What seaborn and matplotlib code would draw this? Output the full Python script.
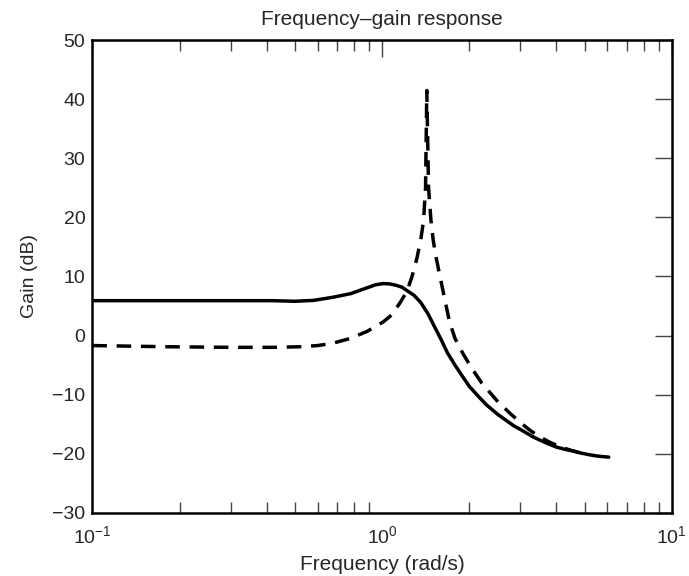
import numpy as np
import pandas as pd
import seaborn as sns
import matplotlib
matplotlib.use('Agg')
import matplotlib.pyplot as plt
from matplotlib.ticker import LogLocator, NullFormatter

# values (frequency in rad/s, gain in dB)
freq_solid = [0.1, 0.2, 0.3, 0.42, 0.5, 0.58, 0.68, 0.78, 0.89, 0.95, 1.01,
              1.06, 1.12, 1.17, 1.22, 1.29, 1.36, 1.44, 1.51, 1.6, 1.68, 1.79,
              1.9, 2.0, 2.14, 2.3, 2.5, 2.65, 2.85, 3.05, 3.3, 3.5, 3.73, 4.0,
              4.3, 4.6, 4.85, 5.2, 5.5, 5.75, 6.06]
gain_solid = [5.9, 5.9, 5.9, 5.9, 5.8, 5.95, 6.5, 7.1, 8.1, 8.6, 8.8,
              8.75, 8.5, 8.2, 7.6, 6.8, 5.6, 3.7, 1.7, -0.7, -2.9, -5.1,
              -7.0, -8.6, -10.2, -11.8, -13.3, -14.2, -15.3, -16.1, -17.1, -17.7, -18.3, -18.9,
              -19.3, -19.6, -19.9, -20.2, -20.4, -20.5, -20.6]

freq_dash = [0.1, 0.181, 0.299, 0.42, 0.522, 0.6, 0.677, 0.776, 0.888, 1.009,
             1.08, 1.152, 1.219, 1.269, 1.321, 1.363, 1.391, 1.413, 1.427, 1.447,
             1.475, 1.503, 1.54, 1.585, 1.64, 1.71, 1.786, 1.909, 2.05, 2.205,
             2.489, 2.74, 2.995, 3.25, 3.511, 3.8, 4.117, 4.45, 4.85]
gain_dash = [-1.7, -1.9, -2.0, -2.0, -1.9, -1.7, -1.3, -0.5, 0.7, 2.3,
             3.5, 5.5, 7.5, 10.0, 13.2, 16.5, 19.5, 25.0, 41.5, 25.0,
             19.5, 16.0, 13.0, 10.0, 6.5, 2.3, -0.5, -3.2, -5.7, -8.0,
             -11.0, -13.0, -14.7, -16.1, -17.2, -18.1, -18.8, -19.4, -19.9]

x_ticks = [0.1, 1, 10]
y_ticks = [-30, -20, -10, 0, 10, 20, 30, 40, 50]

solid = pd.DataFrame({'freq': freq_solid, 'gain': gain_solid})
dashed = pd.DataFrame({'freq': freq_dash, 'gain': gain_dash})

sns.set_style('white')
plt.rcParams['font.family'] = ['Liberation Sans', 'DejaVu Sans']
plt.rcParams['mathtext.fontset'] = 'custom'
plt.rcParams['mathtext.rm'] = 'Liberation Sans'
plt.rcParams['mathtext.it'] = 'Liberation Sans:italic'
plt.rcParams['mathtext.bf'] = 'Liberation Sans:bold'

fig = plt.figure(figsize=(6.89, 5.76), dpi=100)
ax = fig.add_axes([0.134, 0.110, 0.841, 0.820])

sns.lineplot(data=solid, x='freq', y='gain', ax=ax, color='black',
             linewidth=2.5, errorbar=None)
sns.lineplot(data=dashed, x='freq', y='gain', ax=ax, color='black',
             linewidth=2.5, errorbar=None, linestyle=(0, (4.2, 2.8)))

ax.set_xscale('log')
ax.set_xlim(0.1, 10)
ax.set_ylim(-30, 50)
ax.set_xticks(x_ticks)
ax.set_yticks(y_ticks)
ax.xaxis.set_minor_locator(LogLocator(base=10, subs=np.arange(2, 10)))
ax.xaxis.set_minor_formatter(NullFormatter())
ax.set_yticklabels([str(v).replace('-', '\u2212') for v in y_ticks])

ax.tick_params(axis='both', which='major', direction='in', length=12,
               width=1, color='#444444', labelsize=14, top=True, right=True)
ax.tick_params(axis='x', which='minor', direction='in', length=8,
               width=1, color='#444444', top=True, bottom=True)
ax.tick_params(axis='x', which='major', pad=9)
ax.tick_params(axis='y', which='major', pad=5)

for s in ax.spines.values():
    s.set_linewidth(1.8)
    s.set_color('black')

ax.set_xlabel('Frequency (rad/s)', fontsize=15, labelpad=6)
ax.set_ylabel('Gain (dB)', fontsize=14, labelpad=10)
ax.set_title('Frequency\u2013gain response', fontsize=15, pad=11)

fig.savefig('out.png', dpi=100)
